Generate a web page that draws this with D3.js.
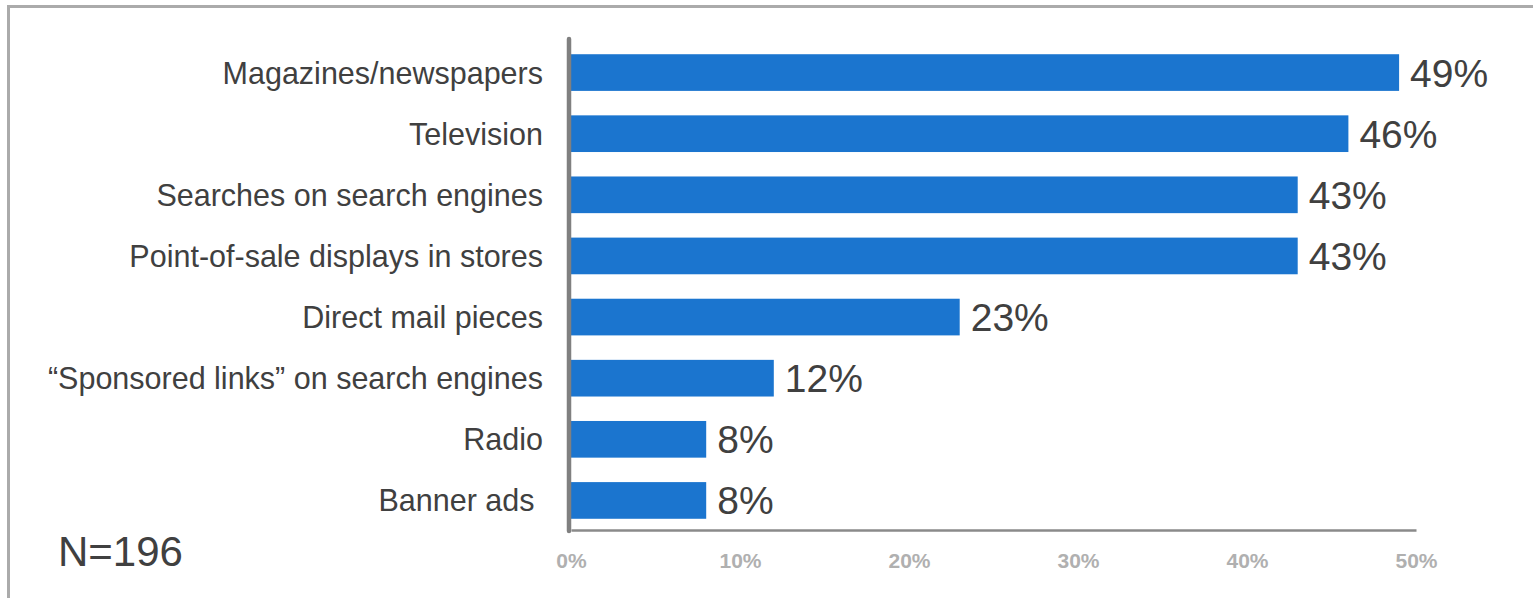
<!DOCTYPE html>
<html>
<head>
<meta charset="utf-8">
<script src="https://cdn.jsdelivr.net/npm/d3@7"></script>
<style>
  html, body { margin: 0; padding: 0; background: #fff; }
  svg { display: block; font-family: "Liberation Sans", Arial, sans-serif; }
  .cat { white-space: pre; }
</style>
</head>
<body>
<svg id="chart" width="1533" height="598"></svg>
<script>
// Media channels and share of respondents (percent)
const categories = [
  "Magazines/newspapers",
  "Television",
  "Searches on search engines",
  "Point-of-sale displays in stores",
  "Direct mail pieces",
  "\u201cSponsored links\u201d on search engines",
  "Radio",
  "Banner ads "
];
const values = [49, 46, 43, 43, 23, 12, 8, 8];
const tickValues = [0, 10, 20, 30, 40, 50];
const sampleNote = "N=196";

const svg = d3.select("#chart");

// outer frame (top and left edges show; the rest runs off the page)
svg.append("rect")
  .attr("x", 8.5).attr("y", 6.5)
  .attr("width", 1600).attr("height", 700)
  .attr("fill", "none")
  .attr("stroke", "#ababab")
  .attr("stroke-width", 3);

const x = d3.scaleLinear().domain([0, 50]).range([571, 1416]);
const y = d3.scaleBand().domain(categories).range([42, 531])
  .paddingInner(0.4).paddingOuter(0.2);

// bars
svg.append("g").selectAll("rect")
  .data(values)
  .join("rect")
  .attr("x", x(0))
  .attr("y", (d, i) => y(categories[i]))
  .attr("width", d => x(d) - x(0))
  .attr("height", y.bandwidth())
  .attr("fill", "#1b75cf");

// value labels
svg.append("g").selectAll("text")
  .data(values)
  .join("text")
  .attr("x", d => x(d) + 11)
  .attr("y", (d, i) => y(categories[i]) + y.bandwidth() / 2)
  .attr("dy", "0.36em")
  .attr("font-size", 39)
  .attr("fill", "#404040")
  .text(d => d + "%");

// category labels
svg.append("g").selectAll("text")
  .data(categories)
  .join("text")
  .attr("class", "cat")
  .attr("x", 543)
  .attr("y", d => y(d) + y.bandwidth() / 2)
  .attr("dy", "0.36em")
  .attr("text-anchor", "end")
  .attr("font-size", 30.5)
  .attr("fill", "#404040")
  .text(d => d);

// x axis
const xAxis = d3.axisBottom(x)
  .tickValues(tickValues)
  .tickSize(0)
  .tickPadding(23)
  .tickFormat(d => d + "%");
const gx = svg.append("g")
  .attr("transform", "translate(0,530)")
  .call(xAxis);
gx.select(".domain")
  .attr("stroke", "#8a8a8a")
  .attr("stroke-width", 2.5);
gx.selectAll(".tick text")
  .attr("font-size", 21)
  .attr("font-weight", "bold")
  .attr("fill", "#b0b0b0")
  .attr("font-family", "'Liberation Sans', Arial, sans-serif");

// y axis line
svg.append("line")
  .attr("x1", 569).attr("x2", 569)
  .attr("y1", 39).attr("y2", 531)
  .attr("stroke", "#808080")
  .attr("stroke-width", 4.5)
  .attr("stroke-linecap", "round");

// sample size note
svg.append("text")
  .attr("x", 58).attr("y", 566)
  .attr("font-size", 42)
  .attr("fill", "#404040")
  .text(sampleNote);
</script>
</body>
</html>
